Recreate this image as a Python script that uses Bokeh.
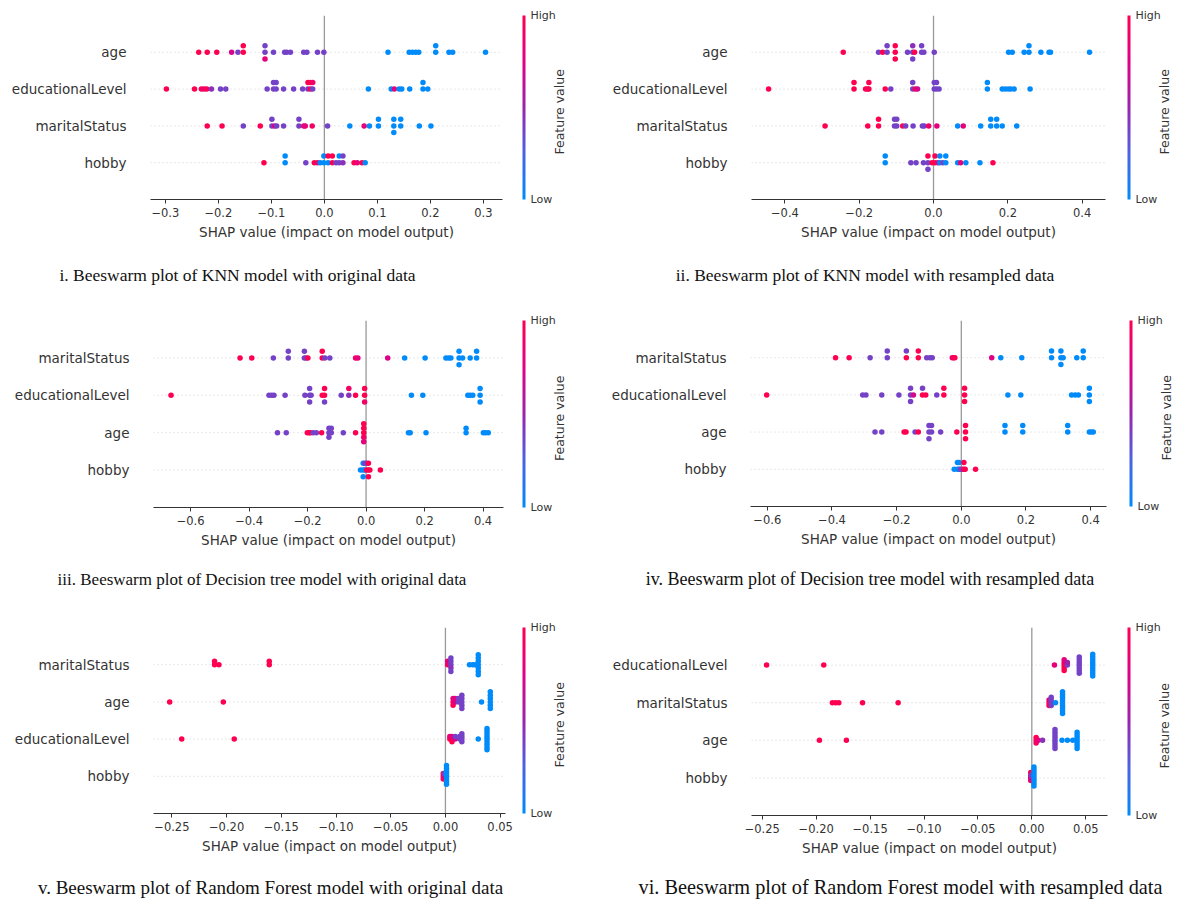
import numpy as np
from bokeh.plotting import figure
from bokeh.models import (ColumnDataSource, FixedTicker, LinearColorMapper, ColorBar,
                          Span, Range1d, CustomJSTickFormatter, LinearAxis)
from bokeh.layouts import column, row
from bokeh.embed import file_html
from bokeh.resources import INLINE

# ---------------------------------------------------------------- data
# feature value scale: 0 = Low (blue), 1 = High (red)

# i. KNN, original data (features top -> bottom)
knn_orig_features = ["age", "educationalLevel", "maritalStatus", "hobby"]
knn_orig_age_shap = [-0.237, -0.221, -0.203, -0.175, -0.163, -0.153, -0.153, -0.112, -0.112, -0.112,
                     -0.096, -0.075, -0.071, -0.064, -0.039, -0.033, -0.013, -0.001, 0.120, 0.160,
                     0.166, 0.172, 0.178, 0.210, 0.210, 0.235, 0.242, 0.304]
knn_orig_age_feat = [1, 1, 1, 0.7, 0.38, 1, 1, 0.38, 0.38, 0.8,
                     0.38, 0.38, 0.38, 0.38, 0.38, 0.38, 0.38, 0.38, 0, 0,
                     0, 0, 0, 0, 0, 0, 0, 0]
knn_orig_edu_shap = [-0.298, -0.245, -0.232, -0.227, -0.222, -0.213, -0.196, -0.186, -0.108, -0.096,
                     -0.096, -0.091, -0.091, -0.077, -0.058, -0.041, -0.031, -0.031, -0.026, -0.026,
                     -0.022, -0.022, 0.083, 0.126, 0.132, 0.141, 0.146, 0.161, 0.186, 0.186, 0.195]
knn_orig_edu_feat = [1, 1, 1, 0.8, 1, 0.45, 0.38, 0.38, 0.38, 0.38,
                     0.38, 0.38, 0.38, 0.38, 0.38, 0.38, 0.45, 1, 1, 1,
                     0.38, 0.9, 0, 0, 0.8, 0, 0, 0, 0, 0, 0]
knn_orig_mar_shap = [-0.221, -0.193, -0.153, -0.121, -0.099, -0.099, -0.094, -0.090, -0.077, -0.048,
                     -0.048, -0.039, -0.036, -0.023, 0.006, 0.048, 0.075, 0.085, 0.102, 0.102,
                     0.131, 0.131, 0.131, 0.144, 0.144, 0.179, 0.201]
knn_orig_mar_feat = [1, 1, 0.38, 1, 0.38, 0.38, 0.7, 0.38, 0.38, 0.38,
                     0.38, 0.8, 0.8, 0.9, 0.38, 0, 0.8, 0, 0, 0,
                     0, 0, 0, 0, 0, 0, 0]
knn_orig_hob_shap = [-0.114, -0.074, -0.074, -0.035, -0.019, -0.013, -0.008, -0.001, -0.001, 0.007,
                     0.007, 0.015, 0.015, 0.022, 0.028, 0.028, 0.035, 0.035, 0.056, 0.062,
                     0.071, 0.077]
knn_orig_hob_feat = [1, 0, 0, 0.38, 1, 0.9, 0, 0, 0, 0,
                     1, 1, 1, 0.38, 0.38, 0, 0.45, 0.38, 1, 0.8,
                     1, 0]

# ii. KNN, resampled data
knn_res_features = ["age", "educationalLevel", "maritalStatus", "hobby"]
knn_res_age_shap = [-0.243, -0.148, -0.137, -0.125, -0.125, -0.103, -0.103, -0.103, -0.070, -0.056,
                    -0.056, -0.056, -0.051, -0.032, -0.032, -0.026, 0.002, 0.202, 0.212, 0.244,
                    0.257, 0.257, 0.289, 0.311, 0.315, 0.420]
knn_res_age_feat = [1, 0.38, 1, 0.38, 0.38, 1, 1, 1, 0.38, 0.38,
                    0.45, 0.38, 1, 0.38, 0.38, 0.38, 0.38, 0, 0, 0,
                    0, 0, 0, 0, 0, 0]
knn_res_edu_shap = [-0.444, -0.214, -0.214, -0.183, -0.178, -0.174, -0.174, -0.130, -0.115, -0.056,
                    -0.056, -0.049, -0.043, 0.002, 0.002, 0.008, 0.008, 0.015, 0.145, 0.145,
                    0.185, 0.193, 0.201, 0.208, 0.217, 0.260]
knn_res_edu_feat = [1, 1, 1, 1, 0.9, 1, 1, 1, 0.38, 0.38,
                    0.38, 1, 0.7, 0.38, 0.38, 0.38, 0.38, 0.38, 0, 0,
                    0, 0, 0, 0, 0, 0]
knn_res_mar_shap = [-0.292, -0.177, -0.148, -0.148, -0.105, -0.105, -0.099, -0.099, -0.083, -0.075,
                    -0.055, -0.030, -0.025, -0.013, 0.009, 0.065, 0.080, 0.127, 0.154, 0.154,
                    0.170, 0.170, 0.185, 0.224]
knn_res_mar_feat = [1, 1, 1, 1, 0.38, 0.38, 0.38, 0.38, 1, 0.38,
                    0.38, 0.38, 0.38, 0.9, 0.8, 0, 0.8, 0, 0, 0,
                    0, 0, 0, 0]
knn_res_hob_shap = [-0.130, -0.130, -0.061, -0.047, -0.027, -0.015, -0.015, -0.015, -0.004, 0.004,
                    0.004, 0.012, 0.017, 0.017, 0.025, 0.033, 0.033, 0.065, 0.073, 0.087,
                    0.125, 0.160]
knn_res_hob_feat = [0, 0, 0.38, 0.38, 0.38, 0.38, 1, 0.38, 1, 1,
                    1, 0.8, 0, 0, 0.38, 0, 0, 0, 0.8, 0,
                    0, 1]

# iii. Decision tree, original data
dt_orig_features = ["maritalStatus", "educationalLevel", "age", "hobby"]
dt_orig_mar_shap = [-0.431, -0.391, -0.317, -0.266, -0.266, -0.211, -0.211, -0.205, -0.199, -0.150,
                    -0.150, -0.141, -0.124, -0.036, -0.028, 0.074, 0.132, 0.202, 0.273, 0.282,
                    0.290, 0.318, 0.318, 0.318, 0.330, 0.356, 0.378, 0.378]
dt_orig_mar_feat = [1, 1, 0.38, 0.38, 0.38, 0.38, 0.38, 0.38, 1, 1,
                    1, 0.38, 0.38, 0.9, 0.8, 0.75, 0, 0, 0, 0,
                    0, 0, 0, 0, 0, 0, 0, 0]
dt_orig_edu_shap = [-0.667, -0.332, -0.323, -0.315, -0.277, -0.209, -0.193, -0.193, -0.193, -0.188,
                    -0.150, -0.142, -0.142, -0.142, -0.085, -0.059, -0.059, -0.036, -0.005, -0.005,
                    -0.005, 0.155, 0.194, 0.348, 0.356, 0.365, 0.390, 0.390, 0.390]
dt_orig_edu_feat = [1, 0.38, 0.38, 0.38, 0.38, 0.38, 0.38, 0.38, 0.38, 0.38,
                    1, 1, 1, 0.38, 0.38, 0.45, 0.9, 1, 1, 1,
                    0.9, 0, 0, 0, 0, 0, 0, 0, 0]
dt_orig_age_shap = [-0.303, -0.273, -0.201, -0.195, -0.190, -0.181, -0.170, -0.152, -0.127, -0.127,
                    -0.127, -0.119, -0.119, -0.078, -0.036, -0.008, -0.008, -0.008, -0.008, -0.008,
                    0.145, 0.151, 0.205, 0.342, 0.342, 0.401, 0.409, 0.418]
dt_orig_age_feat = [0.38, 0.38, 1, 1, 1, 0.38, 0.38, 1, 0.38, 0.38,
                    0.38, 0.38, 0.38, 0.38, 1, 1, 1, 0.9, 1, 0.8,
                    0, 0, 0, 0, 0, 0, 0, 0]
dt_orig_hob_shap = [-0.019, -0.010, -0.010, -0.010, -0.004, -0.004, 0.002, 0.002, 0.008, 0.008,
                    0.008, 0.013, 0.049]
dt_orig_hob_feat = [0, 0, 0, 0, 0, 0.38, 1, 0.38, 1, 1,
                    1, 1, 1]

# iv. Decision tree, resampled data
dt_res_features = ["maritalStatus", "educationalLevel", "age", "hobby"]
dt_res_mar_shap = [-0.389, -0.347, -0.282, -0.229, -0.229, -0.170, -0.170, -0.133, -0.133, -0.107,
                   -0.097, -0.090, -0.028, -0.024, -0.020, 0.094, 0.122, 0.187, 0.279, 0.279,
                   0.308, 0.308, 0.308, 0.315, 0.357, 0.377, 0.377]
dt_res_mar_feat = [1, 1, 0.38, 0.38, 0.38, 1, 0.38, 1, 1, 0.38,
                   0.38, 0.38, 0.9, 0.8, 1, 0.75, 0, 0, 0, 0,
                   0, 0, 0, 0, 0, 0, 0]
dt_res_edu_shap = [-0.602, -0.305, -0.295, -0.246, -0.193, -0.157, -0.157, -0.157, -0.148, -0.120,
                   -0.120, -0.110, -0.076, -0.054, -0.054, 0.010, 0.010, 0.010, 0.144, 0.184,
                   0.341, 0.352, 0.362, 0.396, 0.396, 0.396]
dt_res_edu_feat = [1, 0.38, 0.38, 0.38, 0.38, 0.38, 0.38, 0.38, 0.7, 1,
                   0.38, 1, 0.38, 1, 1, 1, 1, 1, 0, 0,
                   0, 0, 0, 0, 0, 0]
dt_res_age_shap = [-0.267, -0.246, -0.177, -0.171, -0.143, -0.133, -0.100, -0.100, -0.100, -0.092,
                   -0.092, -0.064, -0.014, 0.013, 0.013, 0.013, 0.135, 0.135, 0.190, 0.190,
                   0.329, 0.329, 0.396, 0.403, 0.408]
dt_res_age_feat = [0.38, 0.38, 1, 1, 0.38, 1, 0.38, 0.38, 0.38, 0.38,
                   0.38, 0.38, 1, 1, 1, 1, 0, 0, 0, 0,
                   0, 0, 0, 0, 0]
dt_res_hob_shap = [-0.022, -0.012, -0.012, -0.007, -0.007, -0.003, 0.003, 0.008, 0.008, 0.012,
                   0.044]
dt_res_hob_feat = [0, 0, 0, 0, 0, 0.38, 0.38, 1, 1, 1,
                   1]

# v. Random Forest, original data
rf_orig_features = ["maritalStatus", "age", "educationalLevel", "hobby"]
rf_orig_mar_shap = [-0.211, -0.211, -0.207, -0.161, -0.161, 0.002, 0.002, 0.005, 0.005, 0.005,
                    0.005, 0.005, 0.022, 0.025, 0.027, 0.030, 0.030, 0.030, 0.030, 0.030,
                    0.030, 0.030]
rf_orig_mar_feat = [1, 1, 1, 1, 1, 0.9, 0.8, 0.38, 0.38, 0.45,
                    0.38, 0.38, 0, 0, 0, 0, 0, 0, 0, 0,
                    0, 0]
rf_orig_age_shap = [-0.252, -0.203, 0.007, 0.007, 0.007, 0.009, 0.009, 0.012, 0.012, 0.015,
                    0.015, 0.015, 0.015, 0.015, 0.033, 0.041, 0.041, 0.041, 0.041, 0.041,
                    0.041]
rf_orig_age_feat = [1, 1, 1, 0.8, 1, 0.7, 0.8, 0.38, 0.38, 0.38,
                    0.38, 0.38, 0.38, 0.38, 0, 0, 0, 0, 0, 0,
                    0]
rf_orig_edu_shap = [-0.241, -0.193, 0.004, 0.004, 0.006, 0.006, 0.006, 0.009, 0.009, 0.013,
                    0.013, 0.015, 0.015, 0.015, 0.015, 0.030, 0.038, 0.038, 0.038, 0.038,
                    0.038, 0.038, 0.038, 0.038, 0.038]
rf_orig_edu_feat = [1, 1, 1, 0.8, 1, 0.8, 1, 0.7, 0.38, 0.38,
                    0.38, 0.38, 0.38, 0.38, 0.38, 0, 0, 0, 0, 0,
                    0, 0, 0, 0, 0]
rf_orig_hob_shap = [-0.002, -0.002, -0.002, -0.001, -0.001, 0.001, 0.001, 0.001, 0.001, 0.001,
                    0.001, 0.001, 0.001]
rf_orig_hob_feat = [1, 0.9, 1, 0.7, 0.38, 0, 0, 0, 0, 0,
                    0, 0, 0]

# vi. Random Forest, resampled data
rf_res_features = ["educationalLevel", "maritalStatus", "age", "hobby"]
rf_res_edu_shap = [-0.246, -0.193, 0.021, 0.030, 0.030, 0.030, 0.030, 0.030, 0.033, 0.033,
                   0.044, 0.044, 0.044, 0.044, 0.044, 0.044, 0.044, 0.0565, 0.0565, 0.0565,
                   0.0565, 0.0565, 0.0565, 0.0565, 0.0565, 0.0565]
rf_res_edu_feat = [1, 1, 0.8, 1, 0.9, 1, 0.8, 1, 0.38, 0.5,
                   0.38, 0.38, 0.38, 0.38, 0.38, 0.38, 0.38, 0, 0, 0,
                   0, 0, 0, 0, 0, 0]
rf_res_mar_shap = [-0.185, -0.182, -0.179, -0.157, -0.124, 0.016, 0.016, 0.016, 0.018, 0.018,
                   0.018, 0.018, 0.022, 0.0285, 0.0285, 0.0285, 0.0285, 0.0285, 0.0285, 0.0285,
                   0.0285, 0.0285]
rf_res_mar_feat = [1, 1, 1, 1, 1, 1, 0.8, 1, 0.38, 0.38,
                   0.38, 0.38, 0, 0, 0, 0, 0, 0, 0, 0,
                   0, 0]
rf_res_age_shap = [-0.197, -0.172, 0.004, 0.004, 0.004, 0.006, 0.010, 0.0215, 0.0215, 0.0215,
                   0.0215, 0.0215, 0.0215, 0.0215, 0.0215, 0.028, 0.033, 0.038, 0.042, 0.042,
                   0.042, 0.042, 0.042, 0.042, 0.042]
rf_res_age_feat = [1, 1, 1, 1, 0.9, 0.8, 0.45, 0.38, 0.38, 0.38,
                   0.38, 0.38, 0.38, 0.38, 0.38, 0, 0, 0, 0, 0,
                   0, 0, 0, 0, 0]
rf_res_hob_shap = [-0.001, -0.001, -0.001, -0.001, -0.0005, -0.0005, 0.002, 0.002, 0.002, 0.002,
                   0.002, 0.002, 0.002, 0.002]
rf_res_hob_feat = [1, 1, 0.9, 1, 0.7, 0.38, 0, 0, 0, 0,
                   0, 0, 0, 0]

# tick values
ticks_knn_orig = [-0.3, -0.2, -0.1, 0.0, 0.1, 0.2, 0.3]
ticks_knn_res = [-0.4, -0.2, 0.0, 0.2, 0.4]
ticks_dt = [-0.6, -0.4, -0.2, 0.0, 0.2, 0.4]
ticks_rf = [-0.25, -0.20, -0.15, -0.10, -0.05, 0.0, 0.05]

captions = [
    "i. Beeswarm plot of KNN model with original data",
    "ii. Beeswarm plot of KNN model with resampled data",
    "iii. Beeswarm plot of Decision tree model with original data",
    "iv. Beeswarm plot of Decision tree model with resampled data",
    "v. Beeswarm plot of Random Forest model with original data",
    "vi. Beeswarm plot of Random Forest model with resampled data",
]

# ---------------------------------------------------------------- helpers
def red_blue_palette(n=256):
    stops = [0.0, 0.25, 0.5, 0.75, 1.0]
    rgbs = [(0, 139, 251), (75, 99, 227), (155, 36, 173), (224, 0, 134), (255, 0, 81)]
    out = []
    for t in np.linspace(0, 1, n):
        r = np.interp(t, stops, [c[0] for c in rgbs])
        g = np.interp(t, stops, [c[1] for c in rgbs])
        b = np.interp(t, stops, [c[2] for c in rgbs])
        out.append("#%02x%02x%02x" % (int(round(r)), int(round(g)), int(round(b))))
    return out


PALETTE = red_blue_palette()


def swarm_offsets(vals, row_height=0.4):
    """SHAP-style beeswarm stacking of equal values."""
    v = np.asarray(vals, float)
    keys = np.round(v, 4)
    order = np.argsort(keys, kind="stable")
    ys = np.zeros(len(v))
    layer, last = 0, None
    for i in order:
        if keys[i] != last:
            layer = 0
        ys[i] = np.ceil(layer / 2) * ((layer % 2) * 2 - 1)
        layer += 1
        last = keys[i]
    ys *= 0.9 * (row_height / np.max(ys + 1))
    return ys


TXT = "#333333"
FONT = "DejaVu Sans"
FV_HALF = 47  # about half the pixel length of the rotated "Feature value" text


def bare_axis(**kw):
    """An axis with no line and no tick marks, used only to place a text."""
    return LinearAxis(axis_line_color=None, major_tick_line_color=None,
                      minor_tick_line_color=None, major_tick_out=0, major_tick_in=0,
                      minor_tick_out=0, minor_tick_in=0, **kw)


def make_panel(features, shap_rows, feat_rows, xr, ticks, decimals, geo, caption, cap_px):
    fw, fh, bl, br, bt, bb, cb_dx, fv_standoff, cap_cx, cap_dy = geo
    n = len(features)
    xs, ys, fs = [], [], []
    for i, (sv, fv) in enumerate(zip(shap_rows, feat_rows)):
        if len(sv) != len(fv):
            raise ValueError("length mismatch in %s / %s" % (caption, features[i]))
        pos = n - 1 - i
        off = swarm_offsets(sv)
        xs += list(sv)
        ys += list(pos + off)
        fs += list(fv)
    src = ColumnDataSource(dict(x=xs, y=ys, f=fs))
    mapper = LinearColorMapper(palette=PALETTE, low=0, high=1)

    p = figure(width=bl + fw + br, height=bt + fh + bb, frame_width=fw, frame_height=fh,
               min_border_left=bl, min_border_right=br, min_border_top=bt, min_border_bottom=bb,
               x_range=Range1d(*xr), y_range=Range1d(-1, n),
               output_backend="svg", toolbar_location=None, tools="")
    p.outline_line_color = None
    p.xgrid.visible = False
    p.ygrid.visible = False
    p.background_fill_color = "white"
    p.border_fill_color = "white"

    # row guide lines and zero line
    for k in range(n):
        p.add_layout(Span(location=k, dimension="width", line_color="#cfcfcf",
                          line_width=1, line_dash="1 3", level="underlay"))
    p.add_layout(Span(location=0, dimension="height", line_color="#999999",
                      line_width=1.3, level="underlay"))

    p.scatter(x="x", y="y", source=src, size=5.5,
              fill_color={"field": "f", "transform": mapper}, line_color=None)

    # x axis
    xa = p.xaxis[0]
    xa.ticker = FixedTicker(ticks=ticks)
    xa.formatter = CustomJSTickFormatter(
        code="const s = Math.abs(tick).toFixed(%d); return (tick < -1e-9 ? '\\u2212' : '') + s;" % decimals)
    xa.axis_line_color = TXT
    xa.major_tick_line_color = TXT
    xa.major_tick_out = 4
    xa.major_tick_in = 0
    xa.minor_tick_line_color = None
    xa.major_label_text_font = FONT
    xa.major_label_text_font_size = "11.5px"
    xa.major_label_text_color = TXT
    xa.major_label_standoff = 4
    xa.axis_label = "SHAP value (impact on model output)"
    xa.axis_label_text_font = FONT
    xa.axis_label_text_font_size = "13.5px"
    xa.axis_label_text_font_style = "normal"
    xa.axis_label_text_color = TXT
    xa.axis_label_standoff = 4

    # y axis (feature names)
    names_bottom_up = list(reversed(features))
    ya = p.yaxis[0]
    ya.ticker = FixedTicker(ticks=list(range(n)))
    ya.formatter = CustomJSTickFormatter(args=dict(names=names_bottom_up),
                                         code="return names[Math.round(tick)];")
    ya.axis_line_color = None
    ya.major_tick_line_color = None
    ya.minor_tick_line_color = None
    ya.major_tick_out = 0
    ya.major_tick_in = 0
    ya.minor_tick_out = 0
    ya.major_label_text_font = FONT
    ya.major_label_text_font_size = "13.5px"
    ya.major_label_text_color = TXT
    ya.major_label_standoff = 24

    # colour bar
    cb = ColorBar(color_mapper=LinearColorMapper(palette=PALETTE, low=0, high=1),
                  width=3, height=fh, location=(cb_dx, 0), margin=0, padding=0,
                  ticker=FixedTicker(ticks=[0, 1]),
                  formatter=CustomJSTickFormatter(code="return tick > 0.5 ? 'High' : 'Low';"),
                  major_tick_line_color=None, minor_tick_line_color=None,
                  bar_line_color=None, border_line_color=None, background_fill_color=None,
                  label_standoff=5, major_label_text_font=FONT,
                  major_label_text_font_size="11px", major_label_text_color=TXT)
    p.add_layout(cb, "right")

    # "Feature value": one rotated label of a bare right axis, anchored so that the
    # text (drawn bottom to top from its anchor) is centred on the frame
    anchor = (n - 1) / 2.0 - FV_HALF * (n + 1) / fh
    fv_axis = bare_axis(ticker=FixedTicker(ticks=[anchor]),
                        formatter=CustomJSTickFormatter(code="return 'Feature value';"),
                        major_label_orientation=np.pi / 2,
                        major_label_standoff=fv_standoff,
                        major_label_text_font=FONT, major_label_text_font_size="12.5px",
                        major_label_text_color=TXT)
    p.add_layout(fv_axis, "right")

    # caption: one label of a bare second axis below the x axis
    size = float(cap_px)
    cap_x = xr[0] + cap_cx / fw * (xr[1] - xr[0])
    st = max(0.0, cap_dy - 44 - size * 0.6)
    cap_axis = bare_axis(ticker=FixedTicker(ticks=[cap_x]),
                         formatter=CustomJSTickFormatter(args=dict(t=caption), code="return t;"),
                         major_label_standoff=int(round(st)),
                         major_label_text_font="Liberation Serif",
                         major_label_text_font_size="%gpx" % size,
                         major_label_text_color="#111111")
    p.add_layout(cap_axis, "below")
    return p


# geometry: frame w, frame h, border l, r, t, b, colorbar dx, "Feature value" standoff,
#           caption centre x (from frame left), caption centre distance below frame
p1 = make_panel(knn_orig_features,
                [knn_orig_age_shap, knn_orig_edu_shap, knn_orig_mar_shap, knn_orig_hob_shap],
                [knn_orig_age_feat, knn_orig_edu_feat, knn_orig_mar_feat, knn_orig_hob_feat],
                (-0.328, 0.336), ticks_knn_orig, 1,
                (352, 184, 150, 106, 15, 101, 20, 1, 87, 77), captions[0], 17.5)
p2 = make_panel(knn_res_features,
                [knn_res_age_shap, knn_res_edu_shap, knn_res_mar_shap, knn_res_hob_shap],
                [knn_res_age_feat, knn_res_edu_feat, knn_res_mar_feat, knn_res_hob_feat],
                (-0.49, 0.463), ticks_knn_res, 1,
                (354, 184, 143, 71, 15, 101, 22, 1, 113.5, 77), captions[1], 17.5)
p3 = make_panel(dt_orig_features,
                [dt_orig_mar_shap, dt_orig_edu_shap, dt_orig_age_shap, dt_orig_hob_shap],
                [dt_orig_mar_feat, dt_orig_edu_feat, dt_orig_age_feat, dt_orig_hob_feat],
                (-0.727, 0.47), ticks_dt, 1,
                (350, 187, 153, 105, 20, 93, 19, 1, 108.5, 73), captions[2], 17)
p4 = make_panel(dt_res_features,
                [dt_res_mar_shap, dt_res_edu_shap, dt_res_age_shap, dt_res_hob_shap],
                [dt_res_mar_feat, dt_res_edu_feat, dt_res_age_feat, dt_res_hob_feat],
                (-0.652, 0.449), ticks_dt, 1,
                (356, 186, 139, 73, 20, 94, 23, 1, 119.5, 74), captions[3], 18)
p5 = make_panel(rf_orig_features,
                [rf_orig_mar_shap, rf_orig_age_shap, rf_orig_edu_shap, rf_orig_hob_shap],
                [rf_orig_mar_feat, rf_orig_age_feat, rf_orig_edu_feat, rf_orig_hob_feat],
                (-0.2668, 0.0549), ticks_rf, 2,
                (352, 186, 153, 103, 27, 91, 17, 1, 117, 75), captions[4], 19)
p6 = make_panel(rf_res_features,
                [rf_res_edu_shap, rf_res_mar_shap, rf_res_age_shap, rf_res_hob_shap],
                [rf_res_edu_feat, rf_res_mar_feat, rf_res_age_feat, rf_res_hob_feat],
                (-0.260, 0.0702), ticks_rf, 2,
                (356, 188, 143, 69, 27, 89, 20, 1, 149, 73), captions[5], 20.3)

layout = column(row(p1, p2), row(p3, p4), row(p5, p6))
with open("out.html", "w", encoding="utf-8") as fh_out:
    fh_out.write(file_html(layout, INLINE))
